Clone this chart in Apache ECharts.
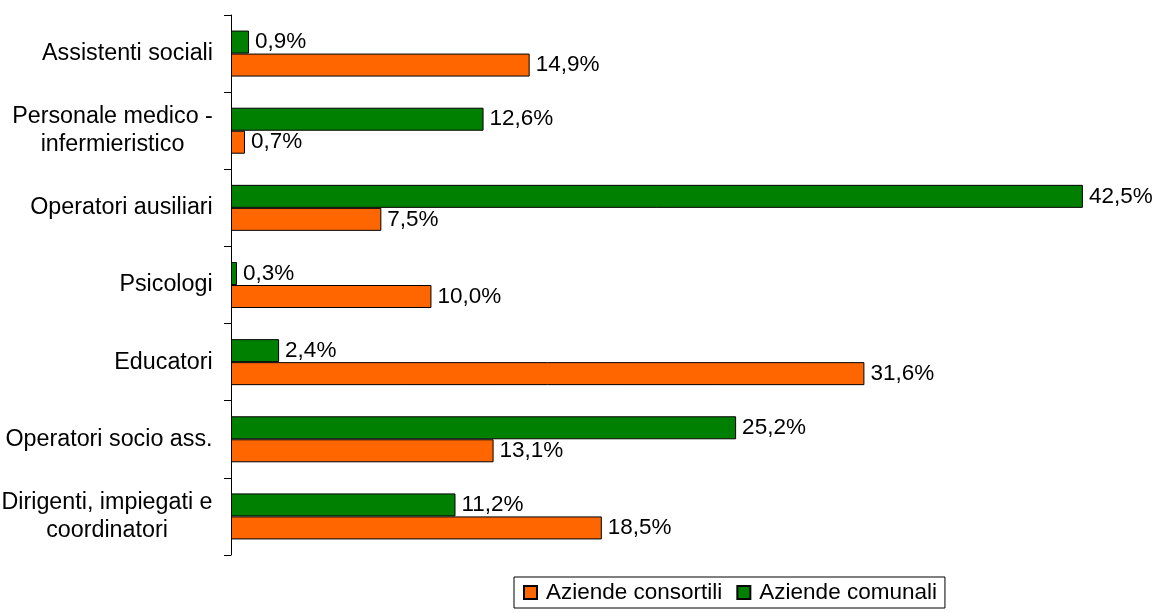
<!DOCTYPE html>
<html>
<head>
<meta charset="utf-8">
<script src="https://cdn.jsdelivr.net/npm/echarts@6/dist/echarts.min.js"></script>
<style>
  html, body { margin: 0; padding: 0; background: #fff; }
  #chart { width: 1157px; height: 613px; }
</style>
</head>
<body>
<div id="chart"></div>
<script>
// Professional profiles, listed top to bottom
const categories = [
  'Assistenti sociali',
  'Personale medico -\ninfermieristico',
  'Operatori ausiliari',
  'Psicologi',
  'Educatori',
  'Operatori socio ass.',
  'Dirigenti, impiegati e\ncoordinatori'
];
// Share of staff (%) by type of company
const aziendeConsortili = [14.9, 0.7, 7.5, 10.0, 31.6, 13.1, 18.5];
const aziendeComunali = [0.9, 12.6, 42.5, 0.3, 2.4, 25.2, 11.2];
const seriesNames = ['Aziende consortili', 'Aziende comunali'];

const FONT = 'Liberation Sans, Arial, sans-serif';
const FONT_SIZE = 22.5;
const CAT_FONT_SIZE = 23.3;

// Multi-line labels are centred within their own block, the block right-aligned to the axis
const ctx = document.createElement('canvas').getContext('2d');
ctx.font = CAT_FONT_SIZE + 'px ' + FONT;
const rich = {};
categories.forEach((c, i) => {
  const lines = c.split('\n');
  const w = Math.max(...lines.map(l => ctx.measureText(l).width));
  rich['c' + i] = { width: Math.ceil(w), align: 'center', fontSize: CAT_FONT_SIZE, fontFamily: FONT, color: '#000', lineHeight: 28 };
});

const fmt = v => v.toFixed(1).replace('.', ',') + '%';
const valueLabel = {
  show: true, position: 'right', distance: 6,
  fontSize: FONT_SIZE, fontFamily: FONT, color: '#000',
  formatter: p => fmt(p.value)
};

const chart = echarts.init(document.getElementById('chart'), null, { renderer: 'canvas' });
chart.setOption({
  animation: false,
  backgroundColor: '#fff',
  textStyle: { fontFamily: FONT },
  grid: { left: 231, right: 24, top: 15, bottom: 58, containLabel: false, outerBoundsMode: 'none' },
  xAxis: {
    type: 'value', min: 0, max: 45,
    show: false
  },
  yAxis: {
    type: 'category',
    data: categories,
    inverse: true,
    axisLine: { show: true, lineStyle: { color: '#000', width: 1 } },
    axisTick: { show: true, length: 7, lineStyle: { color: '#000' } },
    axisLabel: {
      margin: 18,
      formatter: (value) => {
        const i = categories.indexOf(value);
        return value.split('\n').map(l => '{c' + i + '|' + l + '}').join('\n');
      },
      rich: rich
    }
  },
  legend: {
    left: 514, top: 577,
    padding: [4, 8, 4, 9],
    itemGap: 14,
    itemWidth: 13, itemHeight: 13,
    icon: 'rect',
    borderColor: '#000', borderWidth: 1,
    textStyle: { fontSize: FONT_SIZE, fontFamily: FONT, color: '#000', padding: [0, 0, 0, 4] },
    data: seriesNames
  },
  series: [
    {
      name: seriesNames[1],
      type: 'bar',
      data: aziendeComunali,
      barWidth: 23,
      barGap: '0%',
      itemStyle: { color: '#008000', borderColor: '#000', borderWidth: 1 },
      label: valueLabel
    },
    {
      name: seriesNames[0],
      type: 'bar',
      data: aziendeConsortili,
      barWidth: 23,
      barGap: '0%',
      itemStyle: { color: '#FF6600', borderColor: '#000', borderWidth: 1 },
      label: valueLabel
    }
  ]
});
</script>
</body>
</html>
